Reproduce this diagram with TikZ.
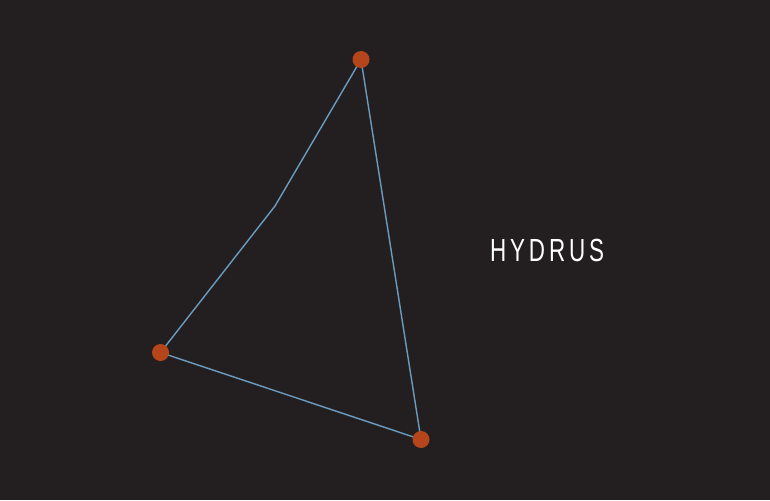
\documentclass[tikz,border=0pt]{standalone}
\usepackage{fontspec}
\newfontfamily\labelfont[FakeStretch=0.70,LetterSpace=12]{Liberation Sans}
\definecolor{bg}{HTML}{231F20}
\definecolor{star}{HTML}{B5461B}
\definecolor{link}{HTML}{6A9CC0}
\begin{document}
\begin{tikzpicture}[x=1pt,y=-1pt,
  starnode/.style={circle,fill=star,inner sep=0pt,minimum size=17pt},
  edge/.style={draw=link,line width=1.4pt},
  title/.style={text=white,font=\labelfont\fontsize{32}{32}\selectfont,inner sep=0pt,anchor=base west}]
\fill[bg] (0,0) rectangle (770,500);
\useasboundingbox (0,0) rectangle (770,500);
\coordinate (b) at (275,206);
\coordinate (ta) at (361,59.5);
\coordinate (la) at (160.5,352.5);
\coordinate (ba) at (421,439.5);
\draw[edge] (ta) -- (b) -- (la) -- (ba) -- (ta);
\node[starnode] (t) at (ta) {};
\node[starnode] (l) at (la) {};
\node[starnode] (bo) at (ba) {};
\node[title] (h) at (490,261) {HYDRUS};
\end{tikzpicture}
\end{document}
